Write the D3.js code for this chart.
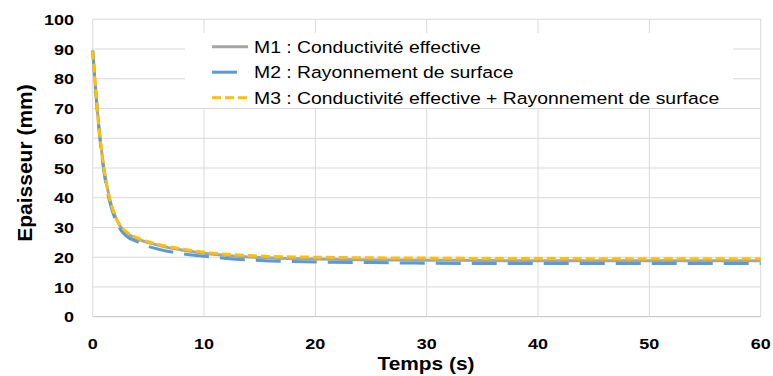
<!DOCTYPE html>
<html>
<head>
<meta charset="utf-8">
<script src="https://cdn.jsdelivr.net/npm/d3@7"></script>
<style>
  body { margin: 0; background: #fff; }
  text { font-family: "Liberation Sans", Arial, sans-serif; fill: #000; }
</style>
</head>
<body>
<div id="chart"></div>
<script>
// time (s)
const temps = [0, 0.5, 1, 1.5, 2, 2.5, 3, 4, 5, 6, 8, 10, 12, 15, 20, 25, 30, 35, 40, 45, 50, 55, 60];
// thickness (mm)
const m1 = [89.5, 66, 50, 40, 34, 30.2, 28.3, 26.2, 24.9, 23.9, 22.4, 21.3, 20.6, 19.9, 19.4, 19.1, 19.0, 18.9, 18.8, 18.8, 18.8, 18.8, 18.8];
const m2 = [89.5, 65.5, 49, 39, 33, 29.3, 27.2, 25.2, 23.6, 22.6, 21.2, 20.3, 19.6, 18.9, 18.4, 18.2, 18.0, 17.9, 17.9, 17.9, 17.9, 17.9, 17.9];
const m3 = [89.5, 66, 50, 40, 34, 30.5, 28.6, 26.5, 25.2, 24.2, 22.8, 21.7, 21.0, 20.4, 20.0, 19.8, 19.7, 19.6, 19.6, 19.5, 19.5, 19.5, 19.5];
const seriesNames = [
  'M1 : Conductivité effective',
  'M2 : Rayonnement de surface',
  'M3 : Conductivité effective + Rayonnement de surface'
];
const xTicks = [0, 10, 20, 30, 40, 50, 60];
const yTicks = [0, 10, 20, 30, 40, 50, 60, 70, 80, 90, 100];

const width = 773, height = 376;
const sx = 1.16; // text is a bit wide in the original

const svg = d3.select('#chart').append('svg')
  .attr('width', width)
  .attr('height', height);

const x = d3.scaleLinear().domain([0, 60]).range([92.7, 760.7]);
const y = d3.scaleLinear().domain([0, 100]).range([316.7, 19.3]);

// grid
svg.append('g')
  .selectAll('line')
  .data(yTicks)
  .join('line')
  .attr('x1', x(0)).attr('x2', x(60))
  .attr('y1', d => y(d)).attr('y2', d => y(d))
  .attr('stroke', d => d === 0 ? '#bfbfbf' : '#d9d9d9')
  .attr('stroke-width', 1);

svg.append('g')
  .selectAll('line')
  .data(xTicks)
  .join('line')
  .attr('x1', d => x(d)).attr('x2', d => x(d))
  .attr('y1', y(0)).attr('y2', y(100))
  .attr('stroke', '#d9d9d9')
  .attr('stroke-width', 1);

// tick labels
svg.append('g')
  .selectAll('text')
  .data(yTicks)
  .join('text')
  .attr('transform', d => `translate(74,${y(d)}) scale(${sx},1)`)
  .attr('text-anchor', 'end')
  .attr('dy', '0.36em')
  .attr('font-size', 15.5)
  .attr('font-weight', 'bold')
  .text(d => d);

svg.append('g')
  .selectAll('text')
  .data(xTicks)
  .join('text')
  .attr('transform', d => `translate(${x(d)},343.5) scale(${sx},1)`)
  .attr('text-anchor', 'middle')
  .attr('dy', '0.36em')
  .attr('font-size', 15.5)
  .attr('font-weight', 'bold')
  .text(d => d);

// axis titles
svg.append('text')
  .attr('transform', `translate(426,370) scale(${sx},1)`)
  .attr('text-anchor', 'middle')
  .attr('font-size', 18)
  .attr('font-weight', 'bold')
  .text('Temps (s)');

svg.append('text')
  .attr('transform', 'translate(32,163) rotate(-90)')
  .attr('text-anchor', 'middle')
  .attr('font-size', 21)
  .attr('font-weight', 'bold')
  .text('Epaisseur (mm)');

// series
const series = [
  {values: m1, color: '#a5a5a5', dash: null},
  {values: m2, color: '#5b9bd5', dash: '25,11'},
  {values: m3, color: '#ffc000', dash: '9,4'}
];

const line = d3.line()
  .x((d, i) => x(temps[i]))
  .y(d => y(d))
  .curve(d3.curveMonotoneX);

svg.append('g')
  .selectAll('path')
  .data(series)
  .join('path')
  .attr('fill', 'none')
  .attr('stroke', d => d.color)
  .attr('stroke-width', 3)
  .attr('stroke-dasharray', d => d.dash)
  .attr('d', d => line(d.values));

// legend
const legend = svg.append('g');
legend.append('rect')
  .attr('x', 185).attr('y', 33)
  .attr('width', 548).attr('height', 75)
  .attr('fill', '#fff');

const rows = legend.selectAll('g.row')
  .data(series)
  .join('g')
  .attr('class', 'row')
  .attr('transform', (d, i) => `translate(0,${46.7 + i * 25.5})`);

rows.append('line')
  .attr('x1', 212).attr('x2', 248)
  .attr('y1', 0).attr('y2', 0)
  .attr('stroke', d => d.color)
  .attr('stroke-width', 3)
  .attr('stroke-dasharray', d => d.dash);

rows.append('text')
  .attr('transform', `translate(254,0) scale(${sx},1)`)
  .attr('dy', '0.36em')
  .attr('font-size', 16.7)
  .text((d, i) => seriesNames[i]);
</script>
</body>
</html>
